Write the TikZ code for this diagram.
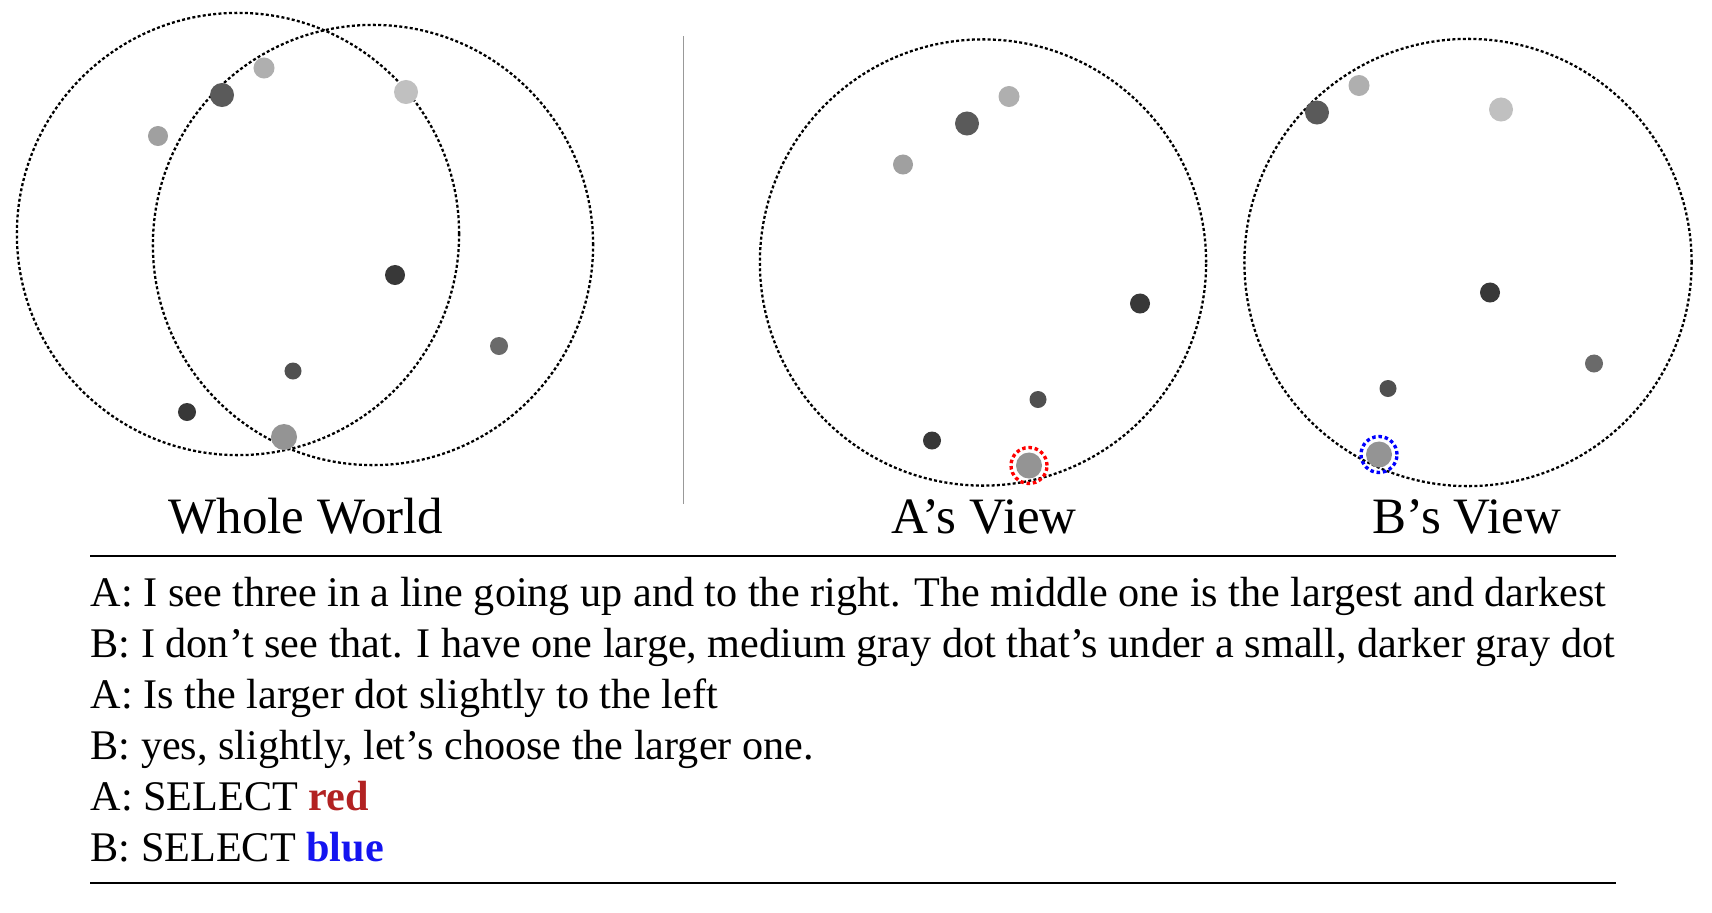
\documentclass[tikz,border=0pt]{standalone}
\usepackage{fontspec}
\setmainfont{Liberation Serif}
\usepackage{xcolor}
\usetikzlibrary{positioning}
\definecolor{LightDot}{HTML}{C0C0C0}
\definecolor{PaleDot}{HTML}{AFAFAF}
\definecolor{GrayDot}{HTML}{A0A0A0}
\definecolor{MidDot}{HTML}{949494}
\definecolor{DimDot}{HTML}{6A6A6A}
\definecolor{DarkDot}{HTML}{5A5A5A}
\definecolor{DeepDot}{HTML}{505050}
\definecolor{InkDot}{HTML}{383838}
\definecolor{PickRed}{HTML}{FF0000}
\definecolor{PickBlue}{HTML}{0000FF}
\definecolor{TxtRed}{HTML}{B22222}
\definecolor{TxtBlue}{HTML}{1414F0}

\begin{document}
\begin{tikzpicture}[x=0.01cm,y=-0.01cm,
  world/.style={draw,circle,inner sep=0pt,minimum size=#1,line width=0.65pt,dash pattern=on 0.85pt off 0.65pt},
  pt/.style={circle,inner sep=0pt,minimum size=#1},
  ring/.style={draw=#1,circle,inner sep=0pt,minimum size=0.36cm,line width=0.95pt,dash pattern=on 1pt off 0.8pt},
  viewlabel/.style={anchor=base,font=\fontsize{14.5}{17}\selectfont},
  say/.style={anchor=base west,inner sep=0pt,font=\fontsize{12}{14}\selectfont}]
  \useasboundingbox (0,0) rectangle (1712,912);

  % whole world
  \node[world=4.42cm] (wa) at (238,234) {};
  \node[world=4.40cm] (wb) at (373,245) {};
  \foreach \n/\x/\y/\c/\d in {1/264/68/PaleDot/0.21cm,2/222/95/DarkDot/0.24cm,3/406/92/LightDot/0.24cm,
      4/158/136/GrayDot/0.20cm,5/395/275/InkDot/0.20cm,6/499/346/DimDot/0.18cm,
      7/293/371/DeepDot/0.17cm,8/187/412/InkDot/0.18cm,9/284/437/MidDot/0.26cm}
    \node[pt=\d,fill=\c] (w\n) at (\x,\y) {};
  \node[viewlabel] (wcap) at (306,533) {Whole World};

  \coordinate (sep1) at (683.5,36);
  \coordinate (sep2) at (683.5,504);
  \draw[gray!80,line width=0.5pt] (sep1) -- (sep2);

  % A's view
  \begin{scope}[shift={(745,28.5)}]
    \node[world=4.46cm] (av) at (238,234) {};
    \foreach \n/\x/\y/\c/\d in {1/264/68/PaleDot/0.21cm,2/222/95/DarkDot/0.24cm,
        4/158/136/GrayDot/0.20cm,5/395/275/InkDot/0.20cm,
        7/293/371/DeepDot/0.17cm,8/187/412/InkDot/0.18cm,9/284/437/MidDot/0.26cm}
      \node[pt=\d,fill=\c] (a\n) at (\x,\y) {};
    \node[ring=PickRed] (apick) at (a9) {};
  \end{scope}
  \node[viewlabel] (acap) at (984,533) {A's View};

  % B's view
  \begin{scope}[shift={(1095,17.5)}]
    \node[world=4.47cm] (bv) at (373,245) {};
    \foreach \n/\x/\y/\c/\d in {1/264/68/PaleDot/0.21cm,2/222/95/DarkDot/0.24cm,3/406/92/LightDot/0.24cm,
        5/395/275/InkDot/0.20cm,6/499/346/DimDot/0.18cm,
        7/293/371/DeepDot/0.17cm,9/284/437/MidDot/0.26cm}
      \node[pt=\d,fill=\c] (b\n) at (\x,\y) {};
    \node[ring=PickBlue] (bpick) at (b9) {};
  \end{scope}
  \node[viewlabel] (bcap) at (1467,533) {B's View};

  % dialogue
  \coordinate (r1) at (90,556);
  \coordinate (r2) at (1616,556);
  \coordinate (r3) at (90,883);
  \coordinate (r4) at (1616,883);
  \draw[line width=0.8pt] (r1) -- (r2);
  \draw[line width=0.8pt] (r3) -- (r4);
  \node[say] (l1) at (90,606) {A: I see three in a line going up and to the right. The middle one is the largest and darkest};
  \node[say] (l2) at (90,657) {B: I don't see that. I have one large, medium gray dot that's under a small, darker gray dot};
  \node[say] (l3) at (90,708) {A: Is the larger dot slightly to the left};
  \node[say] (l4) at (90,759) {B: yes, slightly, let's choose the larger one.};
  \node[say] (l5) at (90,810) {A: SELECT \textcolor{TxtRed}{\textbf{red}}};
  \node[say] (l6) at (90,861) {B: SELECT \textcolor{TxtBlue}{\textbf{blue}}};
\end{tikzpicture}
\end{document}
